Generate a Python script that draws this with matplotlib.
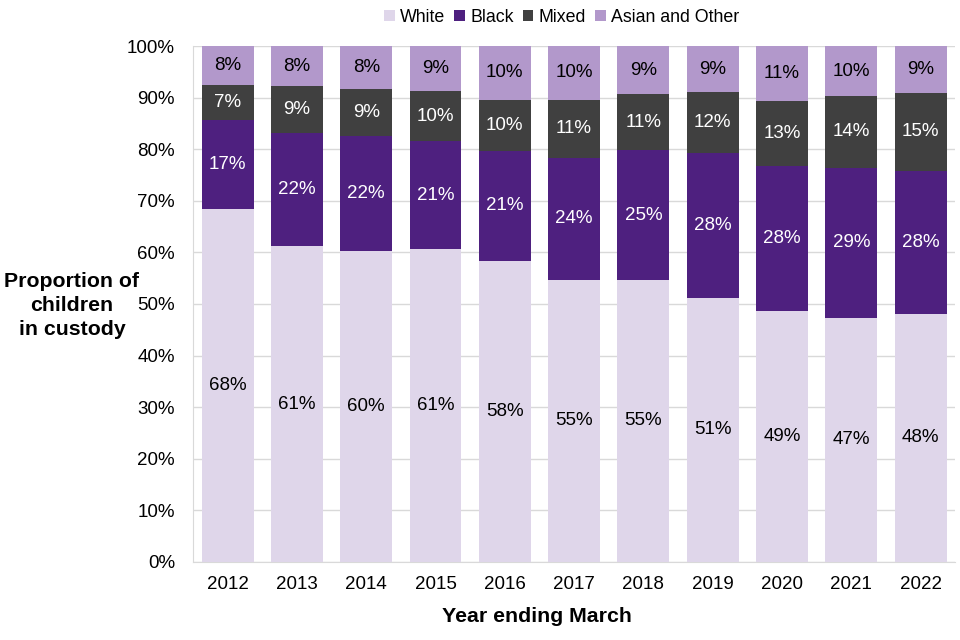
import matplotlib.pyplot as plt
import numpy as np

plt.rcParams['font.family'] = ['Liberation Sans', 'DejaVu Sans']

years = ['2012', '2013', '2014', '2015', '2016', '2017', '2018', '2019', '2020', '2021', '2022']
white = [68.4, 61.2, 60.2, 60.6, 58.3, 54.7, 54.7, 51.2, 48.7, 47.3, 48.1]
black = [17.3, 21.9, 22.3, 21.0, 21.4, 23.6, 25.1, 28.1, 28.1, 29.1, 27.7]
mixed = [6.7, 9.1, 9.1, 9.6, 9.9, 11.3, 10.9, 11.8, 12.6, 13.9, 15.1]
asian = [7.6, 7.8, 8.4, 8.8, 10.4, 10.4, 9.3, 8.9, 10.6, 9.7, 9.1]

series = [
    ('White', white, '#DFD6EA', 'black'),
    ('Black', black, '#4E207F', 'white'),
    ('Mixed', mixed, '#404040', 'white'),
    ('Asian and Other', asian, '#B298CB', 'black'),
]

fig = plt.figure(figsize=(9.6, 6.4), dpi=100)
ax = fig.add_axes([0.201, 0.122, 0.794, 0.806])

x = np.arange(len(years))
bottom = np.zeros(len(years))
for name, vals, color, tcolor in series:
    vals = np.array(vals)
    ax.bar(x, vals, 0.75, bottom=bottom, color=color, label=name, zorder=3)
    for xi, b, v in zip(x, bottom, vals):
        ax.text(xi, b + v / 2, f'{v:.0f}%', ha='center', va='center',
                color=tcolor, fontsize=13.5, zorder=4)
    bottom += vals

ax.set_xlim(-0.5, len(years) - 0.5)
ax.set_ylim(0, 100)
ax.set_yticks(np.arange(0, 101, 10))
ax.set_yticklabels([f'{t}%' for t in range(0, 101, 10)])
ax.set_xticks(x)
ax.set_xticklabels(years)
ax.tick_params(axis='both', length=0, labelsize=13.5)
ax.tick_params(axis='y', pad=13)
ax.tick_params(axis='x', pad=10)
ax.grid(axis='y', color='#D9D9D9', linewidth=1, zorder=0)
for s in ['top', 'right']:
    ax.spines[s].set_visible(False)
ax.spines['left'].set_color('#D9D9D9')
ax.spines['bottom'].set_color('#D9D9D9')

fig.text(0.559, 1 - 617 / 640, 'Year ending March', ha='center', va='center',
         fontsize=15.3, fontweight='bold')
fig.text(0.075, 0.523, 'Proportion of\nchildren\nin custody', ha='center', va='center',
         fontsize=15.3, fontweight='bold', linespacing=1.35)

fig.legend(loc='center', bbox_to_anchor=(0.585, 1 - 17 / 640), ncol=4, frameon=False,
           fontsize=12.8, handlelength=0.6, handleheight=0.6, handletextpad=0.3,
           columnspacing=0.5)

fig.savefig('out.png', dpi=100)
